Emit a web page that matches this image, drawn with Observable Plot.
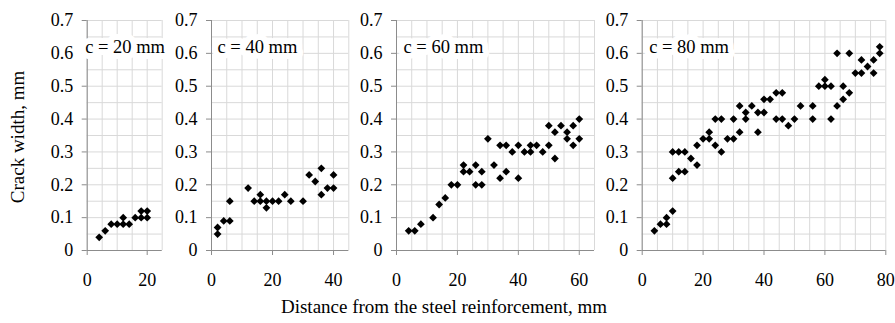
<!DOCTYPE html>
<html><head><meta charset="utf-8">
<script src="https://cdn.jsdelivr.net/npm/d3@7"></script>
<script src="https://cdn.jsdelivr.net/npm/@observablehq/plot@0.6"></script>
<style>
body{margin:0;background:#fff;}
#wrap{position:relative;width:895px;height:323px;font-family:Liberation Serif, Times New Roman, serif;color:#000;overflow:hidden;}
#wrap svg{position:absolute;left:0;top:0;}
.ytitle{position:absolute;left:18px;top:137px;transform:translate(-50%,-50%) rotate(-90deg);white-space:nowrap;font-size:19px;}
.xtitle{position:absolute;left:444px;top:307px;transform:translate(-50%,-50%);white-space:nowrap;font-size:19px;}
</style></head><body><div id="wrap"><div class="ytitle">Crack width, mm</div><div class="xtitle">Distance from the steel reinforcement, mm</div></div>
<script>
// ---- data ----
const panelLabels = ["c = 20 mm", "c = 40 mm", "c = 60 mm", "c = 80 mm"];
const xMax = [25, 45, 65, 80];
const xTicks20 = [0, 20];
const xTicks40 = [0, 20, 40];
const xTicks60 = [0, 20, 40, 60];
const xTicks80 = [0, 20, 40, 60, 80];
const yTicks = [0, 0.1, 0.2, 0.3, 0.4, 0.5, 0.6, 0.7];

const c20Dist  = [4, 6, 8, 10, 12, 12, 14, 16, 18, 18, 20, 20];
const c20Crack = [0.04, 0.06, 0.08, 0.08, 0.10, 0.08, 0.08, 0.10, 0.12, 0.10, 0.12, 0.10];

const c40Dist  = [2, 2, 4, 6, 6, 12, 14, 16, 16, 18, 18, 20, 22, 24, 26, 30, 32, 34, 36, 36, 38, 40, 40];
const c40Crack = [0.07, 0.05, 0.09, 0.09, 0.15, 0.19, 0.15, 0.17, 0.15, 0.15, 0.13, 0.15, 0.15, 0.17, 0.15, 0.15, 0.23, 0.21, 0.25, 0.17, 0.19, 0.23, 0.19];

const c60Dist  = [4, 6, 8, 12, 14, 16, 18, 20, 22, 22, 24, 26, 26, 28, 28, 30, 32, 34, 34, 36, 36, 38, 40, 40, 42, 44, 44, 46, 48, 50, 50, 52, 52, 54, 56, 56, 58, 58, 60, 60];
const c60Crack = [0.06, 0.06, 0.08, 0.10, 0.14, 0.16, 0.20, 0.20, 0.26, 0.24, 0.24, 0.26, 0.20, 0.24, 0.20, 0.34, 0.26, 0.32, 0.22, 0.32, 0.24, 0.30, 0.32, 0.22, 0.30, 0.32, 0.30, 0.32, 0.30, 0.38, 0.32, 0.36, 0.28, 0.38, 0.36, 0.34, 0.38, 0.32, 0.40, 0.34];

const c80Dist  = [4, 6, 8, 8, 10, 10, 10, 12, 12, 14, 14, 16, 18, 18, 20, 22, 22, 24, 24, 26, 26, 28, 30, 30, 32, 32, 34, 34, 36, 38, 38, 40, 40, 42, 44, 44, 46, 46, 48, 50, 52, 56, 56, 58, 60, 60, 62, 62, 64, 64, 66, 66, 68, 68, 70, 72, 72, 74, 76, 76, 78, 78];
const c80Crack = [0.06, 0.08, 0.10, 0.08, 0.12, 0.22, 0.30, 0.30, 0.24, 0.30, 0.24, 0.28, 0.32, 0.26, 0.34, 0.36, 0.34, 0.40, 0.32, 0.40, 0.30, 0.34, 0.40, 0.34, 0.44, 0.36, 0.42, 0.40, 0.44, 0.42, 0.36, 0.46, 0.42, 0.46, 0.48, 0.40, 0.48, 0.40, 0.38, 0.40, 0.44, 0.44, 0.40, 0.50, 0.52, 0.50, 0.50, 0.40, 0.60, 0.44, 0.50, 0.46, 0.60, 0.48, 0.54, 0.58, 0.54, 0.56, 0.58, 0.54, 0.62, 0.60];

// ---- layout ----
const W = 895, H = 323;
const FONT = "Liberation Serif, Times New Roman, serif";
const panels = [
  {label: panelLabels[0], xs: c20Dist, ys: c20Crack, max: xMax[0], ticks: xTicks20, left: 86.7, right: 161.7, dx: -2},
  {label: panelLabels[1], xs: c40Dist, ys: c40Crack, max: xMax[1], ticks: xTicks40, left: 211, right: 348.3, dx: 6},
  {label: panelLabels[2], xs: c60Dist, ys: c60Crack, max: xMax[2], ticks: xTicks60, left: 396, right: 594, dx: 7},
  {label: panelLabels[3], xs: c80Dist, ys: c80Crack, max: xMax[3], ticks: xTicks80, left: 641.7, right: 885.3, dx: 7}
];
const gridColor = "#d9d9d9", axisColor = "#8c8c8c";
const yGrid = d3.range(0, 0.7001, 0.05).map(v => +v.toFixed(2));
const wrap = document.getElementById("wrap");

for (const p of panels) {
  const data = p.xs.map((x, i) => ({x, y: p.ys[i]}));
  const xGrid = d3.range(0, p.max + 0.001, 5);
  const chart = Plot.plot({
    width: W, height: H,
    marginLeft: p.left, marginRight: W - p.right, marginTop: 20, marginBottom: 73,
    x: {domain: [0, p.max]},
    y: {domain: [0, 0.7]},
    style: {fontFamily: FONT, fontSize: "18px", background: "transparent", color: "#000", overflow: "visible"},
    marks: [
      Plot.gridX(xGrid, {stroke: gridColor, strokeOpacity: 1}),
      Plot.gridY(yGrid, {stroke: gridColor, strokeOpacity: 1}),
      Plot.ruleX([0], {stroke: axisColor}),
      Plot.ruleY([0], {stroke: axisColor}),
      Plot.axisX(p.ticks, {tickSize: 5, tickPadding: 18, stroke: axisColor, label: null, fontSize: 18, fontFamily: FONT}),
      Plot.axisY(yTicks, {tickSize: 5, tickPadding: 9, stroke: axisColor, label: null, fontSize: 18, fontFamily: FONT, tickFormat: d => d === 0 ? "0" : d3.format(".1f")(d)}),
      Plot.text([p.label], {frameAnchor: "top-left", textAnchor: "start", dx: p.dx, dy: 19, fill: "#000", stroke: "white", strokeWidth: 12, paintOrder: "stroke", fontSize: 18.5, fontFamily: FONT}),
      Plot.dot(data, {x: "x", y: "y", symbol: "diamond2", r: 3.5, fill: "#000"})
    ]
  });
  wrap.appendChild(chart);
}
</script>
</body></html>
